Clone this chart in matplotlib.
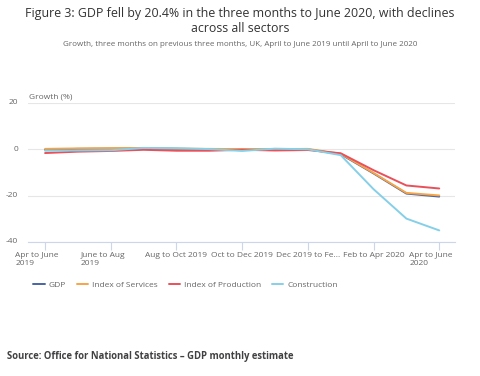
import matplotlib
matplotlib.use("Agg")
import matplotlib.pyplot as plt
import matplotlib.transforms as mtransforms
from matplotlib.ticker import FixedLocator

plt.rcParams['font.family'] = ['Open Sans', 'DejaVu Sans']

periods = ["Apr to June 2019", "May to July 2019", "June to Aug 2019", "July to Sept 2019",
           "Aug to Oct 2019", "Sept to Nov 2019", "Oct to Dec 2019", "Nov 2019 to Jan 2020",
           "Dec 2019 to Feb 2020", "Jan to Mar 2020", "Feb to Apr 2020", "Mar to May 2020",
           "Apr to June 2020"]
tick_labels = ["Apr to June\n2019", "June to Aug\n2019", "Aug to Oct 2019", "Oct to Dec 2019",
               "Dec 2019 to Fe...", "Feb to Apr 2020", "Apr to June\n2020"]

gdp = [-0.2, 0.2, 0.3, 0.5, 0.2, 0.1, 0.0, 0.0, 0.0, -2.1, -10.4, -19.1, -20.4]
services = [0.2, 0.4, 0.5, 0.6, 0.3, 0.2, 0.1, 0.1, 0.2, -1.9, -10.2, -18.8, -19.9]
production = [-1.6, -1.0, -0.7, -0.2, -0.6, -0.6, -0.2, -0.5, -0.3, -1.7, -9.0, -15.6, -16.9]
construction = [-0.6, -0.5, -0.4, 0.6, 0.5, 0.1, -0.7, 0.3, 0.0, -2.5, -17.2, -29.9, -35.0]

series = [("GDP", gdp, "#4a64a4"), ("Index of Services", services, "#f7a447"),
          ("Index of Production", production, "#e9505a"), ("Construction", construction, "#86cfe8")]

W, H = 480, 376
fig = plt.figure(figsize=(4.8, 3.76), dpi=100)
fig.patch.set_facecolor("white")
ax = fig.add_axes([28 / W, 1 - 242 / H, (455 - 28) / W, (242 - 103) / H])

x = list(range(len(periods)))
handles = []
for name, vals, col in series:
    h, = ax.plot(x, vals, color=col, lw=1.4, label=name, solid_capstyle='round')
    handles.append(h)

ax.set_xlim(-0.52, 12.48)
ax.set_ylim(-40, 20)
ax.set_yticks([-40, -20, 0, 20])
ax.set_yticklabels(["-40", "-20", "0", "20"])
ax.grid(axis='y', color="#e6e6e6", lw=0.8)
ax.set_axisbelow(True)
for s in ["top", "right", "left"]:
    ax.spines[s].set_visible(False)
ax.spines["bottom"].set_color("#ccd6eb")
ax.spines["bottom"].set_linewidth(0.8)
ax.xaxis.set_major_locator(FixedLocator(x[::2]))
ax.set_xticklabels(tick_labels, multialignment='left')
ax.tick_params(axis='x', length=5.5, width=0.8, color="#ccd6eb", labelsize=6, labelcolor="#666666", pad=1.5)
ax.tick_params(axis='y', length=0, labelsize=6, labelcolor="#666666", pad=7)
for lab in ax.get_yticklabels():
    lab.set_va('center')

offset = mtransforms.ScaledTranslation(-8 / 100, 0, fig.dpi_scale_trans)
for lab in ax.get_xticklabels():
    if "\n" in lab.get_text():
        lab.set_transform(lab.get_transform() + offset)

fig.text(29 / W, 1 - 97 / H, "Growth (%)", fontsize=6, color="#666666", va='center', ha='left')

fig.text(0.5, 1 - 21 / H, "Figure 3: GDP fell by 20.4% in the three months to June 2020, with declines\nacross all sectors",
         ha='center', va='center', fontsize=8.9, color="#333333", linespacing=1.2)
fig.text(0.5, 1 - 44 / H, "Growth, three months on previous three months, UK, April to June 2019 until April to June 2020",
         ha='center', va='center', fontsize=5.75, color="#666666")

fig.legend(handles=handles, loc='center left', bbox_to_anchor=(30 / W, 1 - 285 / H), ncol=4, frameon=False,
           fontsize=6, handlelength=1.35, handletextpad=0.45, columnspacing=1.35, borderaxespad=0,
           labelcolor="#666666")

fig.text(7 / W, 1 - 357 / H, "Source: Office for National Statistics \u2013 GDP monthly estimate",
         ha='left', va='center', fontsize=6.85, color="#414042", fontweight='bold')

fig.savefig("out.png", dpi=100)
